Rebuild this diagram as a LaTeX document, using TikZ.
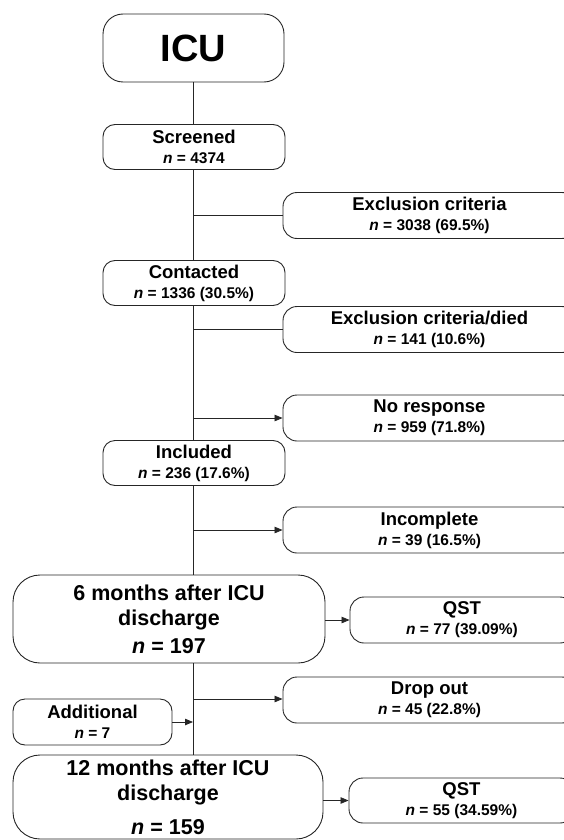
\documentclass[tikz,border=0pt]{standalone}
\usepackage{fontspec}
\setmainfont{Liberation Sans}
\usetikzlibrary{arrows.meta}
\newcommand\nval[1]{{\fontsize{15.5}{19}\selectfont\textit{n} = #1}}
\newcommand\bignval[1]{{\textit{n} = #1}}
\begin{document}
\begin{tikzpicture}[x=1pt,y=-1pt,
  box/.style={draw=black!85, line width=0.9pt, rounded corners=12pt, inner sep=0pt,
    align=center, font=\bfseries\fontsize{18.5}{20}\selectfont},
  rbox/.style={box, rounded corners=14pt, minimum width=293pt, minimum height=46pt},
  lbox/.style={box, minimum width=182pt, minimum height=45pt},
  bigbox/.style={box, rounded corners=27pt, font=\bfseries\fontsize{21.5}{25}\selectfont},
  link/.style={draw=black!85, line width=0.8pt},
  arr/.style={link, -{Triangle[length=8pt,width=6.5pt]}}]
\useasboundingbox (0,0) rectangle (563,840);
\coordinate (trunk) at (193,0);

\node[box, rounded corners=20pt, minimum width=181pt, minimum height=68pt,
  font=\bfseries\fontsize{38}{40}\selectfont] (icu) at (193.5,48) {ICU};
\node[lbox] (scr) at (194,147) {Screened\\\nval{4374}};
\node[lbox] (con) at (194,283) {Contacted\\\nval{1336 (30.5\%)}};
\node[lbox] (inc) at (194,463) {Included\\\nval{236 (17.6\%)}};

\node[rbox] (exc1) at (429.5,215.5) {Exclusion criteria\\\nval{3038 (69.5\%)}};
\node[rbox] (exc2) at (429.5,329.5) {Exclusion criteria/died\\\nval{141 (10.6\%)}};
\node[rbox] (nores) at (429.5,418) {No response\\\nval{959 (71.8\%)}};
\node[rbox] (incomp) at (429.5,530) {Incomplete\\\nval{39 (16.5\%)}};

\node[bigbox, minimum width=312pt, minimum height=88pt] (m6) at (169,619)
  {6 months after ICU\\discharge\\[3pt]\bignval{197}};
\node[rbox, minimum width=224pt] (qst1) at (462,620) {QST\\\nval{77 (39.09\%)}};
\node[rbox] (drop) at (429.5,700) {Drop out\\\nval{45 (22.8\%)}};
\node[box, minimum width=159pt, minimum height=46pt] (add) at (92.5,722) {Additional\\\nval{7}};
\node[bigbox, minimum width=310pt, minimum height=84pt] (m12) at (168,797)
  {12 months after ICU\\discharge\\[9pt]\bignval{159}};
\node[rbox, minimum width=225pt, minimum height=45pt] (qst2) at (461.5,800.5) {QST\\\nval{55 (34.59\%)}};

% trunk
\draw[link] (icu.south -| trunk) -- (scr.north -| trunk);
\draw[link] (scr.south -| trunk) -- (con.north -| trunk);
\draw[link] (con.south -| trunk) -- (inc.north -| trunk);
\draw[link] (inc.south -| trunk) -- (m6.north -| trunk);
\draw[link] (m6.south -| trunk) -- (m12.north -| trunk);

% branches
\coordinate (b1) at (193,215.5);
\coordinate (b2) at (193,329.5);
\coordinate (b3) at (193,418);
\coordinate (b4) at (193,530);
\coordinate (b5) at (193,699);
\draw[link] (b1) -- (b1 -| exc1.west);
\draw[link] (b2) -- (b2 -| exc2.west);
\draw[arr] (b3) -- (b3 -| nores.west);
\draw[arr] (b4) -- (b4 -| incomp.west);
\draw[arr] (b5) -- (b5 -| drop.west);
\draw[arr] (add.east) -- (add.east -| trunk);
\draw[arr] (qst1.west -| m6.east) -- (qst1.west);
\draw[arr] (qst2.west -| m12.east) -- (qst2.west);
\end{tikzpicture}
\end{document}
